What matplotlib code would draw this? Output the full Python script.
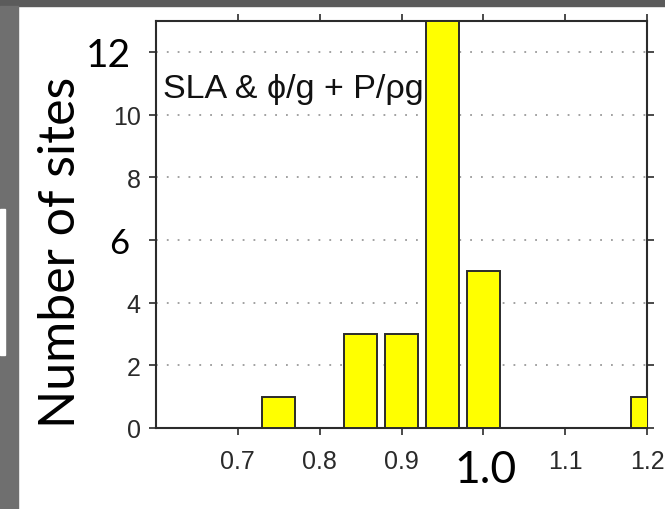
import matplotlib.pyplot as plt
from matplotlib.patches import Rectangle
from matplotlib.transforms import ScaledTranslation

# bin centres of the ratio histogram and number of sites in each bin
bin_centres = [0.65, 0.70, 0.75, 0.80, 0.85, 0.90, 0.95, 1.00, 1.05, 1.10, 1.15, 1.20]
site_counts = [0, 0, 1, 0, 3, 3, 13, 5, 0, 0, 0, 1]

xticks = [0.7, 0.8, 0.9, 1.0, 1.1, 1.2]
xtick_labels = ["0.7", "0.8", "0.9", "1.0", "1.1", "1.2"]
yticks = [0, 2, 4, 6, 8, 10, 12]
ytick_labels = ["0", "2", "4", "6", "8", "10", "12"]
big_labels = {"1.0": 32, "12": 28, "6": 25}   # labels re-typed in the big font

label_text = "SLA & \u03d5/g + P/\u03c1g"

fig = plt.figure(figsize=(6.65, 5.1), dpi=100)
fig.patch.set_facecolor("white")

# slide background strips
fig.patches.append(Rectangle((0, 1 - 7 / 510), 1, 7 / 510, transform=fig.transFigure,
                             color="#5b5b5b", zorder=0))
fig.patches.append(Rectangle((0, 0), 18 / 665, 1 - 7 / 510, transform=fig.transFigure,
                             color="#6f6f6f", zorder=0))
fig.patches.append(Rectangle((0, (510 - 356) / 510), 5 / 665, 146 / 510, transform=fig.transFigure,
                             color="white", zorder=1))

ax = fig.add_axes([156 / 665, 81 / 510, 491 / 665, 407.5 / 510])

ax.bar(bin_centres, site_counts, width=0.04, color="#ffff00", edgecolor="#2b2b2b",
       linewidth=1.4, zorder=3)

ax.set_xlim(0.6, 1.2)
ax.set_ylim(0, 13)
ax.set_axisbelow(True)
ax.yaxis.grid(True, linestyle=(0, (1, 5)), linewidth=1.3, color="#9a9a9a")

ax.set_xticks(xticks)
ax.set_xticklabels(xtick_labels, fontsize=18, family="Liberation Sans", color="#2a2a2a")
ax.set_yticks(yticks)
ax.set_yticklabels(ytick_labels, fontsize=18, family="Liberation Sans", color="#2a2a2a")

ax.tick_params(direction="out", length=5, width=1.2, color="#2b2b2b",
               top=True, right=True)
ax.tick_params(axis="x", pad=10)
ax.tick_params(axis="y", pad=6)

# the big pasted-over labels sit a little off the normal label spot
shift = {"1.0": (2, 0), "12": (-10, 0), "6": (-11, 0)}
for lab in ax.get_xticklabels() + ax.get_yticklabels():
    t = lab.get_text()
    if t in big_labels:
        lab.set_fontsize(big_labels[t])
        lab.set_family("Lato")
        lab.set_color("black")
        dx, dy = shift[t]
        lab.set_transform(lab.get_transform() + ScaledTranslation(dx / 100, dy / 100, fig.dpi_scale_trans))

for sp in ax.spines.values():
    sp.set_linewidth(1.5)
    sp.set_color("#2b2b2b")

ax.text(0.014, 10.55, label_text, fontsize=24.5, family="Liberation Sans",
        transform=ax.get_yaxis_transform(), va="baseline", ha="left", color="#111111")

fig.text(84 / 665, (510 - 428) / 510, "Number of sites", rotation=90, fontsize=36,
         family="Lato", ha="right", va="bottom", color="black")

fig.savefig("out.png", dpi=100)
